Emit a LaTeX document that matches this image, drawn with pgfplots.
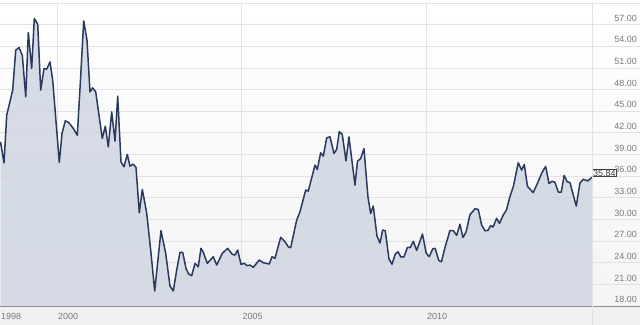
\documentclass[border=0pt]{standalone}
\usepackage{pgfplots}
\pgfplotsset{compat=1.18}
\usepackage{pgfplotstable}
\usepackage{fontspec}
\setmainfont{Liberation Sans}
\definecolor{linecol}{HTML}{2A3A5E}
\definecolor{fillcol}{HTML}{CDD4E0}
\definecolor{gridcol}{HTML}{E2E2E2}
\definecolor{labcol}{HTML}{7A7A7A}
\definecolor{axiscol}{HTML}{8C8C8C}
\definecolor{bandcol}{HTML}{F0F0F0}

\pgfplotstableread{
x y
1998.469 40.76
1998.564 37.85
1998.637 44.45
1998.799 47.92
1998.881 53.46
1998.970 53.83
1999.060 52.76
1999.152 46.99
1999.222 55.91
1999.314 50.92
1999.385 57.85
1999.477 57.06
1999.558 47.92
1999.648 50.92
1999.721 50.83
1999.810 51.84
1999.883 49.30
2000.062 37.90
2000.136 41.92
2000.225 43.67
2000.317 43.44
2000.442 42.61
2000.550 41.68
2000.631 48.84
2000.724 57.52
2000.813 54.84
2000.894 47.68
2000.967 48.24
2001.049 47.68
2001.228 41.23
2001.309 42.93
2001.390 40.06
2001.482 44.91
2001.572 40.85
2001.645 47.09
2001.734 37.99
2001.816 37.29
2001.905 39.01
2001.978 37.39
2002.068 37.67
2002.141 37.21
2002.230 30.92
2002.312 34.16
2002.431 30.88
2002.539 25.76
2002.648 20.08
2002.818 28.43
2002.946 25.30
2003.062 20.77
2003.152 20.08
2003.244 22.99
2003.333 25.44
2003.407 25.44
2003.496 23.22
2003.569 22.43
2003.650 22.20
2003.740 23.91
2003.829 23.44
2003.902 25.99
2003.965 25.44
2004.073 23.91
2004.236 24.83
2004.328 23.68
2004.480 25.30
2004.626 25.99
2004.751 25.16
2004.824 25.06
2004.897 25.76
2004.986 23.78
2005.076 23.91
2005.157 23.58
2005.230 23.68
2005.320 23.36
2005.482 24.37
2005.591 24.00
2005.753 23.82
2005.827 24.83
2005.908 24.61
2006.062 27.52
2006.179 26.91
2006.268 26.21
2006.333 26.07
2006.496 29.91
2006.585 31.06
2006.740 34.07
2006.810 33.93
2006.992 37.53
2007.054 36.93
2007.146 39.23
2007.217 38.78
2007.309 41.31
2007.398 41.45
2007.507 39.15
2007.580 39.70
2007.650 42.17
2007.732 41.78
2007.832 38.12
2007.913 41.45
2008.076 34.76
2008.144 38.08
2008.230 38.43
2008.320 39.81
2008.428 33.10
2008.501 30.84
2008.572 31.85
2008.672 27.70
2008.753 26.73
2008.827 28.53
2008.897 28.43
2008.997 24.54
2009.079 23.79
2009.168 25.20
2009.241 25.52
2009.322 24.79
2009.404 24.81
2009.499 26.13
2009.575 26.10
2009.656 26.96
2009.748 25.71
2009.905 27.97
2010.008 25.30
2010.089 24.83
2010.182 25.92
2010.249 25.99
2010.347 24.30
2010.420 24.14
2010.515 26.10
2010.650 28.46
2010.740 28.46
2010.832 27.79
2010.921 29.33
2011.003 27.49
2011.089 28.29
2011.192 30.65
2011.328 31.48
2011.417 31.39
2011.509 29.22
2011.599 28.43
2011.680 28.48
2011.753 29.15
2011.816 28.94
2011.916 30.15
2011.992 29.45
2012.100 30.67
2012.182 31.30
2012.276 33.17
2012.371 34.62
2012.501 37.85
2012.593 36.84
2012.664 37.63
2012.751 34.58
2012.908 33.72
2013.035 35.17
2013.144 36.49
2013.244 37.35
2013.333 34.99
2013.420 35.29
2013.496 35.15
2013.585 33.79
2013.667 33.79
2013.745 36.10
2013.827 35.22
2013.902 35.11
2014.073 31.85
2014.173 35.04
2014.263 35.56
2014.385 35.34
2014.499 35.84
}\datatable

\begin{document}
\begin{tikzpicture}
\fill[top color=white, bottom color=bandcol!70] (0,0) rectangle (640bp,303bp);
\fill[bandcol] (0,-19bp) rectangle (640bp,0);
\foreach \v in {21,24,...,57} \draw[gridcol, line width=0.8bp] (592bp,{(\v-18)*303/42*1bp}) -- (640bp,{(\v-18)*303/42*1bp});
\begin{axis}[
  at={(0,0)}, anchor=south west,
  scale only axis, width=592bp, height=303bp,
  xmin=1998.455, xmax=2014.5, ymin=18, ymax=60,
  axis line style={draw=none},
  major tick length=0pt,
  xtick={2000,2005,2010}, xticklabels={2000,2005,2010},
  extra x ticks={1998.455}, extra x tick labels={1998}, extra x tick style={grid=none},
  ytick={18,21,...,57},
  yticklabel pos=right,
  xmajorgrids, ymajorgrids,
  grid style={gridcol, line width=0.8bp},
  tick label style={font=\fontsize{9}{10}\selectfont, text=labcol, inner sep=0pt},
  yticklabel style={anchor=base east, xshift=45bp, yshift=3.3bp, /pgf/number format/fixed, /pgf/number format/fixed zerofill, /pgf/number format/precision=2},
  xticklabel style={anchor=base west, xshift=1bp, yshift=-13.3bp},
  /pgf/number format/assume math mode=true,
  clip mode=individual,
]
\addplot[draw=none, fill=fillcol, fill opacity=0.8] table {\datatable} \closedcycle;
\addplot[linecol, line width=1.5bp, line join=round] table {\datatable};
\node[draw=black!75, fill=white, inner sep=0.7bp, anchor=south west, font=\fontsize{9}{10}\selectfont, text=black!75, line width=0.8bp] at (axis cs:2014.5,35.84) {35.84};
\end{axis}
\draw[axiscol, line width=1bp] (0,0) -- (640bp,0);
\draw[gridcol, line width=0.8bp] (592bp,-19bp) -- (592bp,303bp);
\draw[gridcol, line width=0.8bp] (0,303bp) -- (640bp,303bp);
\pgfresetboundingbox
\useasboundingbox (0,-19bp) rectangle (640bp,306bp);
\end{tikzpicture}
\end{document}
